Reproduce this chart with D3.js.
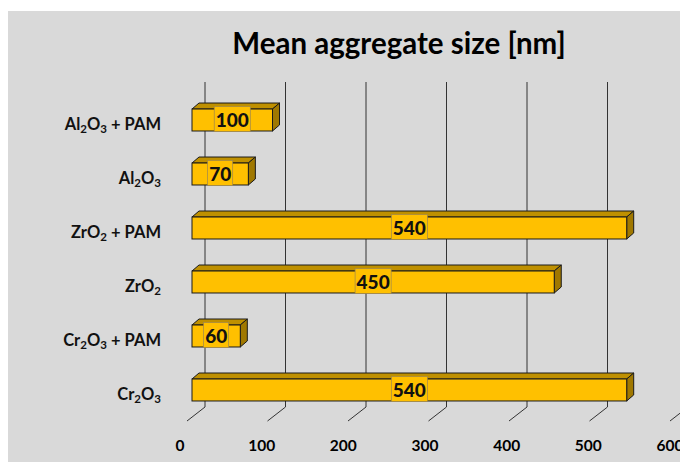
<!DOCTYPE html>
<html>
<head>
<meta charset="utf-8">
<script src="https://cdn.jsdelivr.net/npm/d3@7.9.0/dist/d3.min.js"></script>
<style>
  body { margin: 0; background: #fff; }
  svg { display: block; font-family: Lato, "Open Sans", sans-serif; }
</style>
</head>
<body>
<svg id="chart" width="680" height="462"></svg>
<script>
// data
const categories = ['Al2O3 + PAM', 'Al2O3', 'ZrO2 + PAM', 'ZrO2', 'Cr2O3 + PAM', 'Cr2O3'];
const sizes = [100, 70, 540, 450, 60, 540];
const xTicks = [0, 100, 200, 300, 400, 500, 600];

const svg = d3.select('#chart');

// gray plot area
svg.append('rect')
   .attr('x', 8).attr('y', 11)
   .attr('width', 672).attr('height', 451)
   .attr('fill', '#d9d9d9');

svg.append('text')
   .attr('x', 399).attr('y', 54)
   .attr('text-anchor', 'middle')
   .attr('font-size', 29.5).attr('font-weight', 700)
   .attr('fill', '#000')
   .text('Mean aggregate size [nm]');

// front face scale, wall is shifted back
let x = d3.scaleLinear().domain([0, 600]).range([192, 675]);
let xLabel = d3.scaleLinear().domain([0, 600]).range([180, 670]);
let y = d3.scaleBand().domain(categories).range([77, 433]).padding(0.593);

const wallDx = 13, floorY = 407, floorDx = -18, floorDy = 14;
const depthX = 7, depthY = -6;

// gridlines on back wall
svg.append('g').selectAll('line')
   .data(xTicks)
   .join('line')
   .attr('x1', d => x(d) + wallDx).attr('x2', d => x(d) + wallDx)
   .attr('y1', 82).attr('y2', floorY)
   .attr('stroke', '#333').attr('stroke-width', 1);

// floor ticks
svg.append('g').selectAll('line')
   .data(xTicks)
   .join('line')
   .attr('x1', d => x(d) + wallDx).attr('y1', floorY)
   .attr('x2', d => x(d) + wallDx + floorDx).attr('y2', floorY + floorDy)
   .attr('stroke', '#333').attr('stroke-width', 1);

svg.append('g').selectAll('text')
   .data(xTicks)
   .join('text')
   .attr('x', d => xLabel(d)).attr('y', 451)
   .attr('text-anchor', 'middle')
   .attr('font-size', 15.5).attr('font-weight', 700)
   .text(d => d);

// bars
let bars = svg.append('g').selectAll('g')
   .data(sizes)
   .join('g');

bars.append('path')   // top face
   .attr('d', (d, i) => {
     let x0 = x(0), x1 = x(d), yt = y(categories[i]);
     return `M${x0},${yt}L${x0 + depthX},${yt + depthY}L${x1 + depthX},${yt + depthY}L${x1},${yt}Z`;
   })
   .attr('fill', '#bf9000').attr('stroke', '#1a1a1a').attr('stroke-width', 1);

bars.append('path')   // side face
   .attr('d', (d, i) => {
     let x1 = x(d), yt = y(categories[i]), yb = yt + y.bandwidth();
     return `M${x1},${yt}L${x1 + depthX},${yt + depthY}L${x1 + depthX},${yb + depthY}L${x1},${yb}Z`;
   })
   .attr('fill', '#a07800').attr('stroke', '#1a1a1a').attr('stroke-width', 1);

bars.append('rect')   // front face
   .attr('x', x(0))
   .attr('y', (d, i) => y(categories[i]))
   .attr('width', d => x(d) - x(0))
   .attr('height', y.bandwidth())
   .attr('fill', '#ffc000').attr('stroke', '#1a1a1a').attr('stroke-width', 1);

// value labels with small box
bars.each(function (d, i) {
  let g = d3.select(this);
  let cx = (x(0) + x(d)) / 2;
  let cy = y(categories[i]) + y.bandwidth() / 2;
  let box = g.append('rect');
  let t = g.append('text')
     .attr('x', cx).attr('y', cy + 7)
     .attr('text-anchor', 'middle')
     .attr('font-size', 19).attr('font-weight', 900)
     .attr('fill', '#111')
     .text(d);
  let w = t.node().getComputedTextLength() + 3;
  box.attr('x', cx - w / 2).attr('y', cy - 13.5)
     .attr('width', w).attr('height', 25)
     .attr('fill', '#ffc000').attr('stroke', '#9c8650').attr('stroke-width', 0.7);
});

// category labels with subscripts
svg.append('g').selectAll('text')
   .data(categories)
   .join('text')
   .attr('x', 161)
   .attr('y', d => y(d) + y.bandwidth() / 2 + 10)
   .attr('text-anchor', 'end')
   .attr('font-size', 16.5).attr('font-weight', 700)
   .attr('fill', '#111')
   .each(function (d) {
     let t = d3.select(this);
     let shift = 0;
     d.split(/(\d)/).filter(s => s.length).forEach(part => {
       if (/\d/.test(part)) {
         t.append('tspan').attr('font-size', 11.5).attr('dy', 3 - shift).text(part);
         shift = 3;
       } else {
         t.append('tspan').attr('dy', -shift).text(part);
         shift = 0;
       }
     });
   });
</script>
</body>
</html>
